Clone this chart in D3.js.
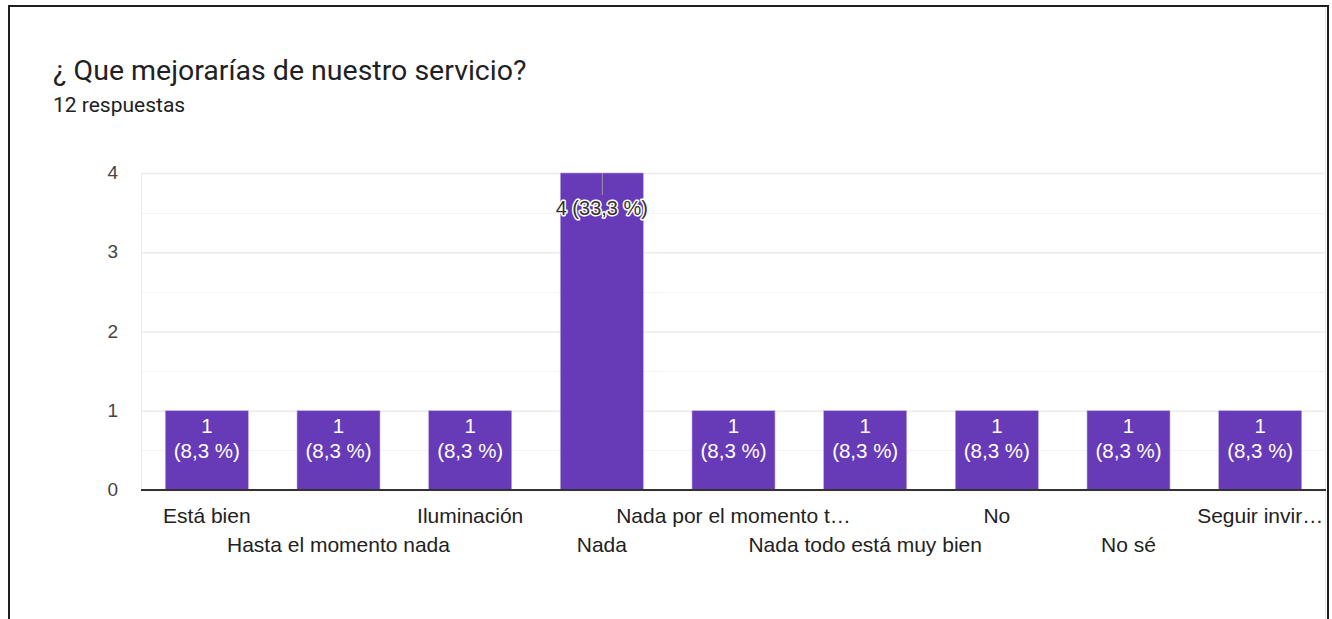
<!DOCTYPE html>
<html>
<head>
<meta charset="utf-8">
<script src="https://cdn.jsdelivr.net/npm/d3@7"></script>
<style>
  html, body { margin: 0; padding: 0; background: #fff; }
  svg { display: block; }
</style>
</head>
<body>
<svg id="chart" width="1332" height="619"></svg>
<script>
// Survey question and response counts
const title = "¿ Que mejorarías de nuestro servicio?";
const subtitle = "12 respuestas";
const categories = [
  "Está bien",
  "Hasta el momento nada",
  "Iluminación",
  "Nada",
  "Nada por el momento t…",
  "Nada todo está muy bien",
  "No",
  "No sé",
  "Seguir invir…"
];
const counts = [1, 1, 1, 4, 1, 1, 1, 1, 1];
const percents = ["8,3 %", "8,3 %", "8,3 %", "33,3 %", "8,3 %", "8,3 %", "8,3 %", "8,3 %", "8,3 %"];
const yTicks = [0, 1, 2, 3, 4];

const svg = d3.select("#chart");
const axisFont = "'Liberation Sans', Arial, sans-serif";

// Card frame
svg.append("path")
  .attr("d", "M9,625 V6 H1328 V625")
  .attr("fill", "none")
  .attr("stroke", "#1f1f1f")
  .attr("stroke-width", 2);
svg.append("line")
  .attr("x1", 1325.5).attr("x2", 1325.5).attr("y1", 8).attr("y2", 619)
  .attr("stroke", "#e6e6e6").attr("stroke-width", 1);

// Heading
svg.append("text")
  .attr("x", 53).attr("y", 80)
  .attr("font-family", "Roboto, sans-serif")
  .attr("font-size", 28.5)
  .attr("fill", "#202124")
  .text(title);
svg.append("text")
  .attr("x", 53).attr("y", 112)
  .attr("font-family", "Roboto, sans-serif")
  .attr("font-size", 21)
  .attr("fill", "#202124")
  .text(subtitle);

// Scales
const plotLeft = 141, plotRight = 1326, plotTop = 173, plotBottom = 490;
const x = d3.scaleBand().domain(categories).range([plotLeft, plotRight]).paddingInner(0.37).paddingOuter(0.185);
const y = d3.scaleLinear().domain([0, 4]).range([plotBottom, plotTop]);

// Minor (half-step) gridlines
const minor = d3.range(0.5, 4, 1);
svg.append("g").selectAll("line").data(minor).join("line")
  .attr("x1", plotLeft).attr("x2", plotRight)
  .attr("y1", d => Math.round(y(d)) + 0.5).attr("y2", d => Math.round(y(d)) + 0.5)
  .attr("stroke", "#f3f3f3").attr("stroke-width", 1);

// Major gridlines and y labels via axis
const yAxis = svg.append("g")
  .attr("transform", `translate(${plotLeft},0)`)
  .call(d3.axisLeft(y).tickValues(yTicks).tickSize(-(plotRight - plotLeft)).tickPadding(23).tickFormat(d3.format("d")));
yAxis.select(".domain").remove();
yAxis.selectAll(".tick line").attr("stroke", "#ebebeb").attr("stroke-width", 1.5);
yAxis.selectAll(".tick text")
  .attr("font-family", axisFont).attr("font-size", 19).attr("fill", "#444")
  .attr("dy", "0.3em");

// Left edge of plot
svg.append("line")
  .attr("x1", plotLeft + 0.5).attr("x2", plotLeft + 0.5)
  .attr("y1", plotTop).attr("y2", plotBottom)
  .attr("stroke", "#ebebeb").attr("stroke-width", 1);

// Bars
svg.append("g").selectAll("rect").data(categories).join("rect")
  .attr("x", d => x(d))
  .attr("y", (d, i) => y(counts[i]))
  .attr("width", x.bandwidth())
  .attr("height", (d, i) => y(0) - y(counts[i]))
  .attr("fill", "#673ab7")
  .attr("stroke", "#b9a3e3").attr("stroke-width", 0.6);

// Value labels
categories.forEach((c, i) => {
  const cx = x(c) + x.bandwidth() / 2;
  if (counts[i] === 1) {
    const t = svg.append("text")
      .attr("text-anchor", "middle")
      .attr("font-family", axisFont).attr("font-size", 20.5)
      .attr("fill", "#ffffff");
    t.append("tspan").attr("x", cx).attr("y", y(counts[i]) + 22).text(String(counts[i]));
    t.append("tspan").attr("x", cx).attr("y", y(counts[i]) + 47).text(`(${percents[i]})`);
  } else {
    svg.append("line")
      .attr("x1", cx + 0.5).attr("x2", cx + 0.5)
      .attr("y1", y(counts[i])).attr("y2", y(counts[i]) + 22)
      .attr("stroke", "#9a9a9a").attr("stroke-width", 1);
    svg.append("text")
      .attr("x", cx).attr("y", y(counts[i]) + 42)
      .attr("text-anchor", "middle")
      .attr("font-family", axisFont).attr("font-size", 20)
      .attr("fill", "#333")
      .attr("stroke", "#ffffff").attr("stroke-width", 3).attr("paint-order", "stroke")
      .attr("stroke-linejoin", "round")
      .text(`${counts[i]} (${percents[i]})`);
  }
});

// Baseline
svg.append("line")
  .attr("x1", plotLeft).attr("x2", plotRight)
  .attr("y1", y(0)).attr("y2", y(0))
  .attr("stroke", "#333").attr("stroke-width", 2);

// Category labels, staggered over two rows
svg.append("g").selectAll("text").data(categories).join("text")
  .attr("x", d => x(d) + x.bandwidth() / 2)
  .attr("y", (d, i) => i % 2 === 0 ? 523 : 552)
  .attr("text-anchor", "middle")
  .attr("font-family", axisFont).attr("font-size", 21)
  .attr("fill", "#222")
  .text(d => d);
</script>
</body>
</html>
